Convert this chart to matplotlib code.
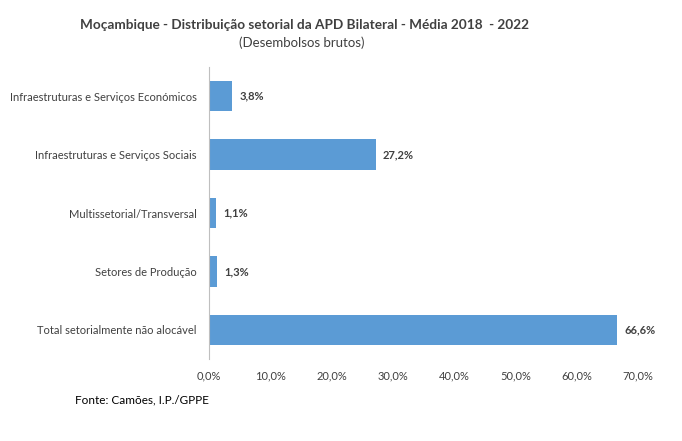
import matplotlib.pyplot as plt
from matplotlib.ticker import FuncFormatter

categorias = [
    "Infraestruturas e Serviços Económicos",
    "Infraestruturas e Serviços Sociais",
    "Multissetorial/Transversal",
    "Setores de Produção",
    "Total setorialmente não alocável",
]
valores = [3.8, 27.2, 1.1, 1.3, 66.6]
ticks_x = [0, 10, 20, 30, 40, 50, 60, 70]

plt.rcParams['font.family'] = ['Lato', 'DejaVu Sans']

fig = plt.figure(figsize=(6.82, 4.41), dpi=100)
ax = fig.add_axes([0.3065, 0.186, 0.629, 0.662])

y = list(range(len(categorias)))
ax.barh(y, valores, height=0.52, color='#5B9BD5')
ax.set_ylim(len(categorias) - 0.5, -0.5)
ax.set_xlim(0, 70)
ax.set_yticks(y)
ax.set_yticklabels(categorias, fontsize=8, color='#404040')
ax.set_xticks(ticks_x)
ax.xaxis.set_major_formatter(FuncFormatter(lambda v, p: f"{v:.1f}%".replace('.', ',')))
ax.tick_params(axis='x', labelsize=8, labelcolor='#404040', length=0, pad=8)
ax.tick_params(axis='y', length=0, pad=9)

for s in ['top', 'right', 'bottom']:
    ax.spines[s].set_visible(False)
ax.spines['left'].set_color('#BFBFBF')

for yi, v in zip(y, valores):
    ax.text(v + 1.2, yi, f"{v:.1f}%".replace('.', ','), va='center', ha='left',
            fontsize=8, fontweight='bold', color='#404040')

fig.text(0.446, 1 - 25 / 441, "Moçambique - Distribuição setorial da APD Bilateral - Média 2018  - 2022",
         ha='center', va='center', fontsize=9.8, fontweight='bold', color='#404040')
fig.text(0.443, 1 - 43 / 441, "(Desembolsos brutos)", ha='center', va='center',
         fontsize=9.5, color='#404040')
fig.text(75 / 682, 1 - 400 / 441, "Fonte: Camões, I.P./GPPE", ha='left', va='center',
         fontsize=8.5, color='black')

fig.savefig('out.png', dpi=100)
